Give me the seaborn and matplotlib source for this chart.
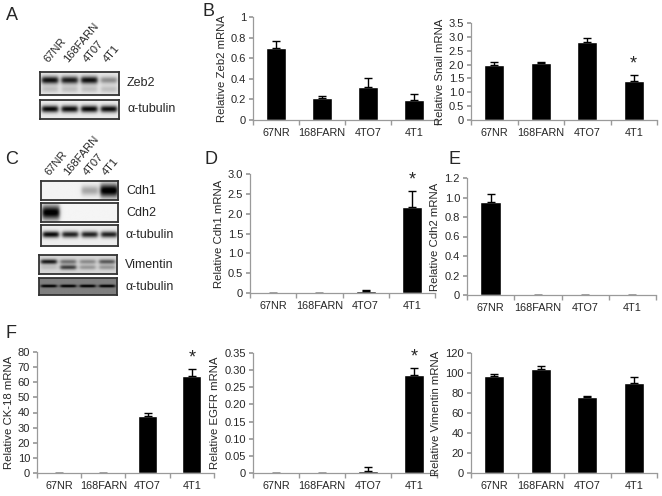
import numpy as np
import pandas as pd
import matplotlib
matplotlib.use("Agg")
import matplotlib.pyplot as plt
import seaborn as sns

# ---------------------------------------------------------------------------
# data
# ---------------------------------------------------------------------------
cells = ["67NR", "168FARN", "4TO7", "4T1"]
blot_lanes = ["67NR", "168FARN", "4T07", "4T1"]

zeb2 = [0.70, 0.21, 0.32, 0.19]
zeb2_err = [0.07, 0.025, 0.085, 0.065]
snail = [2.00, 2.06, 2.81, 1.42]
snail_err = [0.10, 0.05, 0.15, 0.21]
cdh1 = [0.0, 0.0, 0.05, 2.17]
cdh1_err = [0.0, 0.0, 0.02, 0.41]
cdh2 = [0.95, 0.004, 0.002, 0.002]
cdh2_err = [0.09, 0.0, 0.0, 0.0]
ck18 = [0.0, 0.0, 38.0, 64.0]
ck18_err = [0.0, 0.0, 2.0, 5.0]
egfr = [0.0, 0.0, 0.006, 0.286]
egfr_err = [0.0, 0.0, 0.012, 0.021]
vim = [97.0, 104.0, 76.0, 90.0]
vim_err = [2.5, 3.5, 1.2, 6.5]

# band intensities per lane (0 = no band, 1 = saturated)
zeb2_band = [0.85, 0.80, 0.85, 0.35]
tub_a_band = [0.90, 0.88, 0.90, 0.88]
cdh1_band = [0.0, 0.0, 0.30, 1.0]
cdh2_band = [1.0, 0.0, 0.0, 0.0]
tub_c_band = [0.90, 0.80, 0.80, 0.80]
vim_upper = [0.75, 0.40, 0.30, 0.50]
vim_lower = [0.10, 0.60, 0.25, 0.25]
tub_c2_band = [0.55, 0.55, 0.55, 0.55]

# ---------------------------------------------------------------------------
# figure
# ---------------------------------------------------------------------------
sns.set_theme(style="white")
plt.rcParams["font.family"] = ["Liberation Sans", "DejaVu Sans"]
plt.rcParams["font.size"] = 7.5

W, H = 662, 496
fig = plt.figure(figsize=(W / 100, H / 100), dpi=100)


def px_axes(l, t, r, b):
    return fig.add_axes([l / W, 1 - b / H, (r - l) / W, (b - t) / H])


AXIS_GREY = "#9a9a9a"


def bar_panel(l, t, r, b, values, errs, ylabel, ymax, yticks, ytl, stars=()):
    ax = px_axes(l, t, r, b)
    df = pd.DataFrame({"cell": cells, "value": values})
    sns.barplot(data=df, x="cell", y="value", color="black", width=0.43,
                errorbar=None, ax=ax, saturation=1)
    ax.errorbar(range(len(cells)), values, yerr=[[0] * len(errs), errs],
                fmt="none", ecolor="black", elinewidth=1, capsize=3, capthick=1)
    for i in stars:
        ax.text(i, values[i] + errs[i] + ymax * 0.02, "*", ha="center",
                va="bottom", fontsize=13)
    ax.set_xlim(-0.5, 3.5)
    ax.set_ylim(0, ymax)
    ax.set_yticks(yticks)
    ax.set_yticklabels(ytl, fontsize=8)
    ax.set_xticks(range(4))
    ax.set_xticklabels(cells, fontsize=7.8)
    ax.set_xticks(np.arange(-0.5, 4, 1), minor=True)
    ax.tick_params(axis="x", which="major", length=0, pad=6)
    ax.tick_params(axis="x", which="minor", length=3.5, color=AXIS_GREY,
                   direction="out", bottom=True)
    ax.tick_params(axis="y", length=3, color=AXIS_GREY, direction="out",
                   left=True, pad=2)
    ax.set_xlabel("")
    ax.set_ylabel(ylabel, fontsize=8.2, labelpad=3)
    for s in ["top", "right"]:
        ax.spines[s].set_visible(False)
    for s in ["left", "bottom"]:
        ax.spines[s].set_color(AXIS_GREY)
        ax.spines[s].set_linewidth(0.9)
    return ax


def blot(l, t, r, b, rows, bg=0.08, label=None):
    ax = px_axes(l, t, r, b)
    ny, nx = 60, 200
    yy = np.linspace(0, 1, ny)[:, None]
    xx = np.linspace(0, 4, nx)[None, :]
    img = np.full((ny, nx), bg)
    for yc, thick, inten, spread in rows:
        for i, v in enumerate(inten):
            if v <= 0:
                continue
            hw = 0.40 + 0.08 * spread * v
            xprof = 1 / (1 + np.exp((np.abs(xx - (i + 0.5)) - hw) / 0.05))
            th = thick * (1 + spread * v)
            yprof = np.exp(-((yy - yc) / th) ** 2)
            img = img + v * xprof * yprof
    img = np.clip(img, 0, 1)
    ax.imshow(img, cmap="gray_r", vmin=0, vmax=1, aspect="auto",
              extent=[0, 4, 1, 0], interpolation="bilinear")
    ax.set_xticks([])
    ax.set_yticks([])
    for s in ax.spines.values():
        s.set_color("#333333")
        s.set_linewidth(1.3)
    if label:
        fig.text((r + 8) / W, 1 - ((t + b) / 2) / H, label, fontsize=9,
                 va="center", ha="left")
    return ax


def lane_labels(x0, x1, ybase):
    step = (x1 - x0) / 4
    for i, name in enumerate(blot_lanes):
        fig.text((x0 + step * (i + 0.5)) / W, 1 - ybase / H, name,
                 rotation=50, rotation_mode="anchor", ha="left", va="bottom",
                 fontsize=8)


# panel letters
for letter, x, y in [("A", 12, 15), ("B", 209, 12), ("C", 12, 160),
                     ("D", 211, 159), ("E", 455, 160), ("F", 11, 333)]:
    fig.text(x / W, 1 - y / H, letter, fontsize=13, ha="center", va="center")

# A: western blot
lane_labels(40, 119, 64)
blot(40, 72, 119, 95, [(0.35, 0.14, zeb2_band, 0.2), (0.75, 0.15, [0.15] * 4, 0)],
     bg=0.10, label="Zeb2")
blot(40, 100, 119, 119, [(0.5, 0.16, tub_a_band, 0.1)], bg=0.08,
     label="\u03b1-tubulin")

# C: western blots
lane_labels(41, 118, 177)
blot(41, 181, 118, 200, [(0.5, 0.22, cdh1_band, 0.6)], bg=0.05, label="Cdh1")
blot(41, 203, 118, 222, [(0.5, 0.25, cdh2_band, 0.5)], bg=0.04, label="Cdh2")
blot(41, 225, 118, 246, [(0.45, 0.14, tub_c_band, 0.1)], bg=0.07,
     label="\u03b1-tubulin")
blot(39, 255, 117, 274, [(0.35, 0.12, vim_upper, 0.1), (0.65, 0.12, vim_lower, 0.1)],
     bg=0.16, label="Vimentin")
blot(39, 278, 117, 295, [(0.5, 0.08, tub_c2_band, 0)], bg=0.50,
     label="\u03b1-tubulin")

# B
bar_panel(253, 17, 437, 120, zeb2, zeb2_err, "Relative Zeb2 mRNA", 1.0,
          [0, 0.2, 0.4, 0.6, 0.8, 1.0], ["0", "0.2", "0.4", "0.6", "0.8", "1"])
bar_panel(471, 23, 657, 120, snail, snail_err, "Relative Snail mRNA", 3.5,
          np.arange(0, 3.6, 0.5), ["0"] + [f"{v:.1f}" for v in np.arange(0.5, 3.6, 0.5)],
          stars=(3,))

# D, E
bar_panel(250, 174, 435, 293, cdh1, cdh1_err, "Relative Cdh1 mRNA", 3.0,
          np.arange(0, 3.1, 0.5), ["0"] + [f"{v:.1f}" for v in np.arange(0.5, 3.1, 0.5)],
          stars=(3,))
bar_panel(467, 178, 656, 295, cdh2, cdh2_err, "Relative Cdh2 mRNA", 1.2,
          np.arange(0, 1.21, 0.2), ["0"] + [f"{v:.1f}" for v in np.arange(0.2, 1.21, 0.2)])

# F
bar_panel(37, 352, 214, 473, ck18, ck18_err, "Relative CK-18 mRNA", 80,
          np.arange(0, 81, 10), [str(v) for v in range(0, 81, 10)], stars=(3,))
bar_panel(253, 353, 437, 473, egfr, egfr_err, "Relative EGFR mRNA", 0.35,
          np.arange(0, 0.351, 0.05), ["0"] + [f"{v:.2f}" for v in np.arange(0.05, 0.351, 0.05)],
          stars=(3,))
bar_panel(471, 353, 657, 473, vim, vim_err, "Relative Vimentin mRNA", 120,
          np.arange(0, 121, 20), [str(v) for v in range(0, 121, 20)])

fig.savefig("out.png", dpi=100)
